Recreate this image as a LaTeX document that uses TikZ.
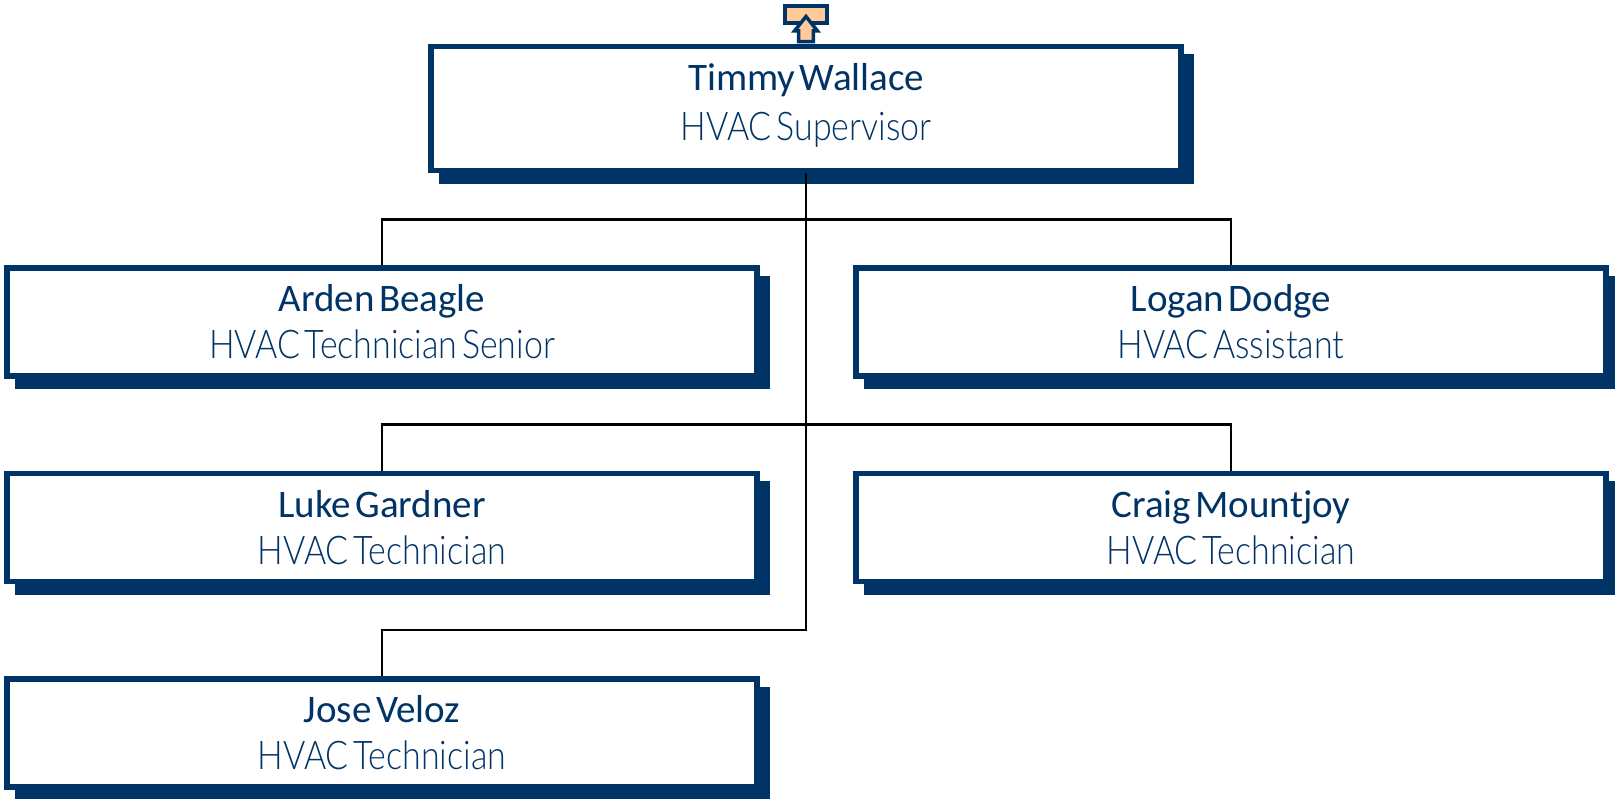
\documentclass[tikz,border=0pt]{standalone}
\usepackage{fontspec}
\setmainfont[WordSpace=.5]{Carlito}
\newfontfamily\rolefont[UprightFont={* Light},FakeStretch=.86,WordSpace=.5]{Lato}
\usetikzlibrary{shadows}
\definecolor{penColor}{HTML}{003366}
\definecolor{iconColor}{HTML}{FFCC99}
\tikzset{>=stealth}
\tikzset{
  staffBox/.style={draw=penColor,line width=5.5pt,fill=white,text=penColor,align=center,
    minimum width=750pt,minimum height=108pt,inner sep=0pt,
    copy shadow={shadow xshift=10.5pt,shadow yshift=-10.5pt,draw=penColor,fill=penColor}},
  bossBox/.style={staffBox,minimum height=124pt},
  reportLine/.style={draw=black,line width=2.3pt},
  iconPart/.style={draw=penColor,line width=4.5pt,fill=iconColor,line join=miter}
}
\newcommand{\nameText}{\fontsize{39}{39}\selectfont}
\newcommand{\roleText}{\rolefont\fontsize{39.5}{39.5}\selectfont}
\newcommand{\staffText}[2]{\nameText\rule[-10pt]{0pt}{46pt}#1\\\roleText\rule[-10pt]{0pt}{46pt}#2}
\newcommand{\bossText}[2]{\nameText\rule[-16pt]{0pt}{46pt}#1\\[3pt]\roleText\rule[-16pt]{0pt}{46pt}#2}
\begin{document}
\begin{tikzpicture}[x=1pt,y=-1pt]
\useasboundingbox (0,0) rectangle (1615,799);
\node[bossBox] (timmy) at (806.2,108.5) {\bossText{Timmy Wallace}{HVAC Supervisor}};
\node[staffBox] (arden) at (382,322) {\staffText{Arden Beagle}{HVAC Technician Senior}};
\node[staffBox] (logan) at (1231,322) {\staffText{Logan Dodge}{HVAC Assistant}};
\node[staffBox] (luke) at (382,527.5) {\staffText{Luke Gardner}{HVAC Technician}};
\node[staffBox] (craig) at (1231,527.5) {\staffText{Craig Mountjoy}{HVAC Technician}};
\node[staffBox] (jose) at (382,733) {\staffText{Jose Veloz}{HVAC Technician}};
\coordinate (busA) at (timmy.south |- 0,219.5);
\coordinate (busB) at (timmy.south |- 0,424.5);
\coordinate (busC) at (timmy.south |- 0,630);
\draw[reportLine] (timmy.south) -- (busC) -| (jose.north);
\draw[reportLine] (arden.north) |- (busA) -| (logan.north);
\draw[reportLine] (luke.north) |- (busB) -| (craig.north);
\node[iconPart,minimum width=42pt,minimum height=17pt,inner sep=0pt] (upIcon) at (806,14.5) {};
\draw[iconPart,line width=3.5pt] (806,16.5) -- (817.5,31) -- (813.3,31) -- (813.3,41.7) -- (798.7,41.7) -- (798.7,31) -- (794.5,31) -- cycle;% arrow over the box
\end{tikzpicture}
\end{document}
